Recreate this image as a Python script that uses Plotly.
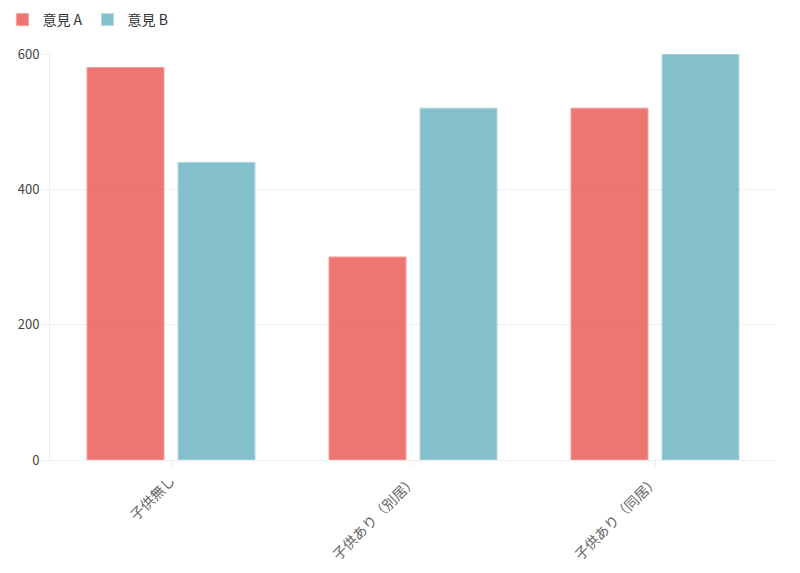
import plotly.graph_objects as go

categories = ["子供無し", "子供あり（別居）", "子供あり（同居）"]
series_names = ["意見 A", "意見 B"]
values_a = [580, 300, 520]
values_b = [440, 520, 600]
y_ticks = [0, 200, 400, 600]

colors = ["rgba(236,106,102,0.92)", "rgba(122,186,200,0.92)"]
line_colors = ["rgba(246,160,156,1)", "rgba(180,218,228,1)"]

fig = go.Figure()
for name, vals, c, lc in zip(series_names, [values_a, values_b], colors, line_colors):
    fig.add_trace(go.Bar(
        x=categories, y=vals, name=name,
        marker=dict(color=c, line=dict(color=lc, width=1)),
    ))

font_family = "Noto Sans CJK JP, Noto Sans, sans-serif"
fig.update_layout(
    width=800, height=573,
    margin=dict(l=50, r=24, t=54, b=113, autoexpand=False),
    paper_bgcolor="white", plot_bgcolor="white",
    barmode="group", bargap=0.248, bargroupgap=0.154,
    font=dict(family=font_family, size=13, color="#444"),
    legend=dict(orientation="h", x=0.003, y=0.993, xref="container", yref="container",
                xanchor="left", yanchor="top",
                font=dict(size=14, color="#333"), itemwidth=30, tracegroupgap=0),
    showlegend=True,
)
fig.update_xaxes(
    automargin=False,
    showline=True, linecolor="#eeeeee", linewidth=1,
    ticks="outside", ticklen=6, tickcolor="#eeeeee",
    tickangle=-45, tickfont=dict(size=14, color="#666"),
    showgrid=False,
)
fig.update_yaxes(
    automargin=False,
    range=[0, 600], tickvals=y_ticks,
    showline=True, linecolor="#eeeeee", linewidth=1,
    ticks="outside", ticklen=7, tickcolor="#eeeeee",
    gridcolor="#f0f0f0", zeroline=False,
    tickfont=dict(size=13, color="#444"),
)
fig.write_html("out.html")
